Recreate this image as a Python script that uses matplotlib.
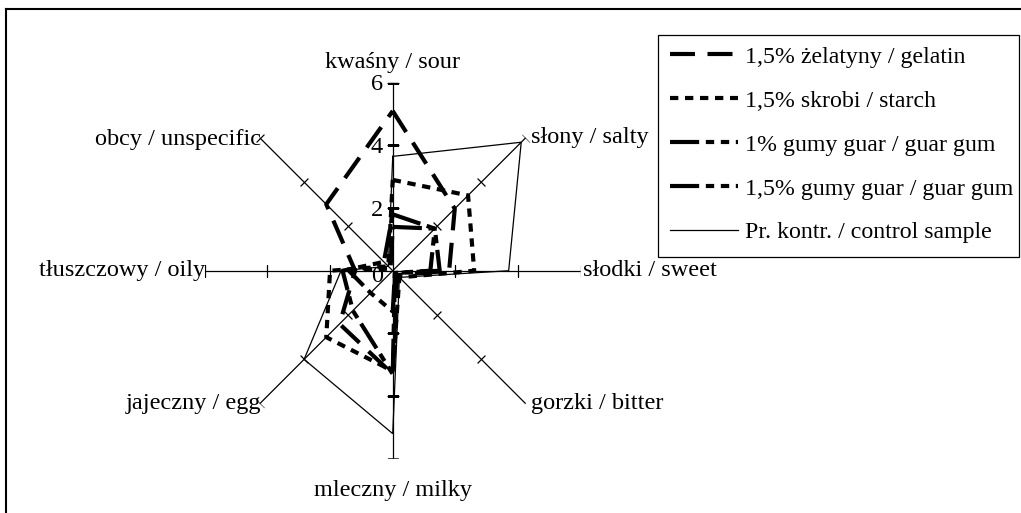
import numpy as np
import matplotlib
matplotlib.use("Agg")
import matplotlib.pyplot as plt
from matplotlib.lines import Line2D
from matplotlib.patches import Rectangle

plt.rcParams['font.family'] = ['Liberation Serif', 'DejaVu Serif']

categories = ["kwaśny / sour", "słony / salty", "słodki / sweet", "gorzki / bitter",
              "mleczny / milky", "jajeczny / egg", "tłuszczowy / oily", "obcy / unspecific"]

series_names = ["1,5% żelatyny / gelatin", "1,5% skrobi / starch",
                "1% gumy guar / guar gum", "1,5% gumy guar / guar gum",
                "Pr. kontr. / control sample"]

gelatin = [5.1, 2.8, 1.8, 0.2, 3.3, 2.4, 1.2, 3.0]
starch = [2.9, 3.4, 2.6, 0.3, 3.2, 3.0, 2.0, 0.2]
guar_1 = [1.8, 1.9, 1.5, 0.1, 3.3, 1.8, 1.6, 0.4]
guar_15 = [1.4, 1.9, 1.2, 0.1, 1.3, 1.0, 1.4, 0.1]
control = [3.65, 5.8, 3.7, 0.3, 5.2, 4.0, 1.65, 0.2]

r_ticks = [0, 2, 4, 6]

FS = 17.5
W, H = 1021, 513

fig = plt.figure(figsize=(10.21, 5.13), dpi=100)
ax = fig.add_axes([0.2005, 0.1058, 0.3683, 0.7329], projection='polar')
ax.set_theta_zero_location('N')
ax.set_theta_direction(-1)
ax.set_ylim(0, 6)
ax.grid(False)
ax.spines['polar'].set_visible(False)
ax.set_xticks([])
ax.set_yticks([])
ax.patch.set_visible(False)

n = len(categories)
theta = np.arange(n) * 2 * np.pi / n

# spokes and tick marks
for t in theta:
    ax.plot([t, t], [0, 6], color='black', lw=0.9, zorder=1)
    ang = 90 - np.degrees(t)
    ax.plot([t] * 3, r_ticks[1:], linestyle='none', marker=(2, 0, ang),
            markersize=8, markeredgewidth=0.9, color='black', zorder=1)

# radial tick labels on the sour axis
for rv in r_ticks:
    ax.annotate(str(rv), xy=(0, rv), xytext=(-7, -4 if rv == 0 else -1.5),
                textcoords='offset points', ha='right', va='center', fontsize=FS)

styles = [
    dict(lw=3.0, dashes=(6, 3)),
    dict(lw=3.0, dashes=(2, 1.6)),
    dict(lw=3.0, dashes=(7, 1.6, 2, 1.6, 2, 1.6)),
    dict(lw=3.0, dashes=(7, 1.6, 2, 1.6, 2, 1.6)),
    dict(lw=0.9, linestyle='-'),
]
data = [gelatin, starch, guar_1, guar_15, control]
handles = []
for vals, st, name in zip(data, styles, series_names):
    v = list(vals) + [vals[0]]
    tt = list(theta) + [theta[0]]
    kw = dict(st)
    dashes = kw.pop('dashes', None)
    line, = ax.plot(tt, v, color='black', solid_joinstyle='miter', label=name, zorder=3, **kw)
    if dashes is not None:
        line.set_dashes(dashes)
    handles.append(line)

# category labels
label_pos = [
    (0, dict(ha='center', va='bottom'), (0, 7)),
    (1, dict(ha='left', va='center'), (4, 0)),
    (2, dict(ha='left', va='center'), (2, 0)),
    (3, dict(ha='left', va='center'), (4, 0)),
    (4, dict(ha='center', va='top'), (0, -15)),
    (5, dict(ha='right', va='center'), (1, 0)),
    (6, dict(ha='right', va='center'), (0, 0)),
    (7, dict(ha='right', va='center'), (1, -1)),
]
for i, al, off in label_pos:
    ax.annotate(categories[i], xy=(theta[i], 6), xytext=off, textcoords='offset points',
                fontsize=FS, annotation_clip=False, **al)

# legend (entries without frame; frame drawn as a rectangle)
leg = fig.legend(handles=handles, loc='upper left', bbox_to_anchor=(670 / W, 1 - 46 / H),
                 frameon=False, fontsize=17.2,
                 handlelength=2.85, labelspacing=0.93, borderpad=0.0, handletextpad=0.3,
                 borderaxespad=0)
fig.add_artist(Rectangle((658 / W, 1 - 257 / H), (1019 - 658) / W, (257 - 35) / H,
                         transform=fig.transFigure, fill=False, edgecolor='black', lw=0.9))

# outer frame (top and left)
fig.add_artist(Line2D([6 / W, 6 / W], [0, 1 - 9 / H], color='black', lw=1.5,
                      transform=fig.transFigure))
fig.add_artist(Line2D([6 / W, 1], [1 - 9 / H, 1 - 9 / H], color='black', lw=1.5,
                      transform=fig.transFigure))

fig.savefig('out.png', dpi=100)
